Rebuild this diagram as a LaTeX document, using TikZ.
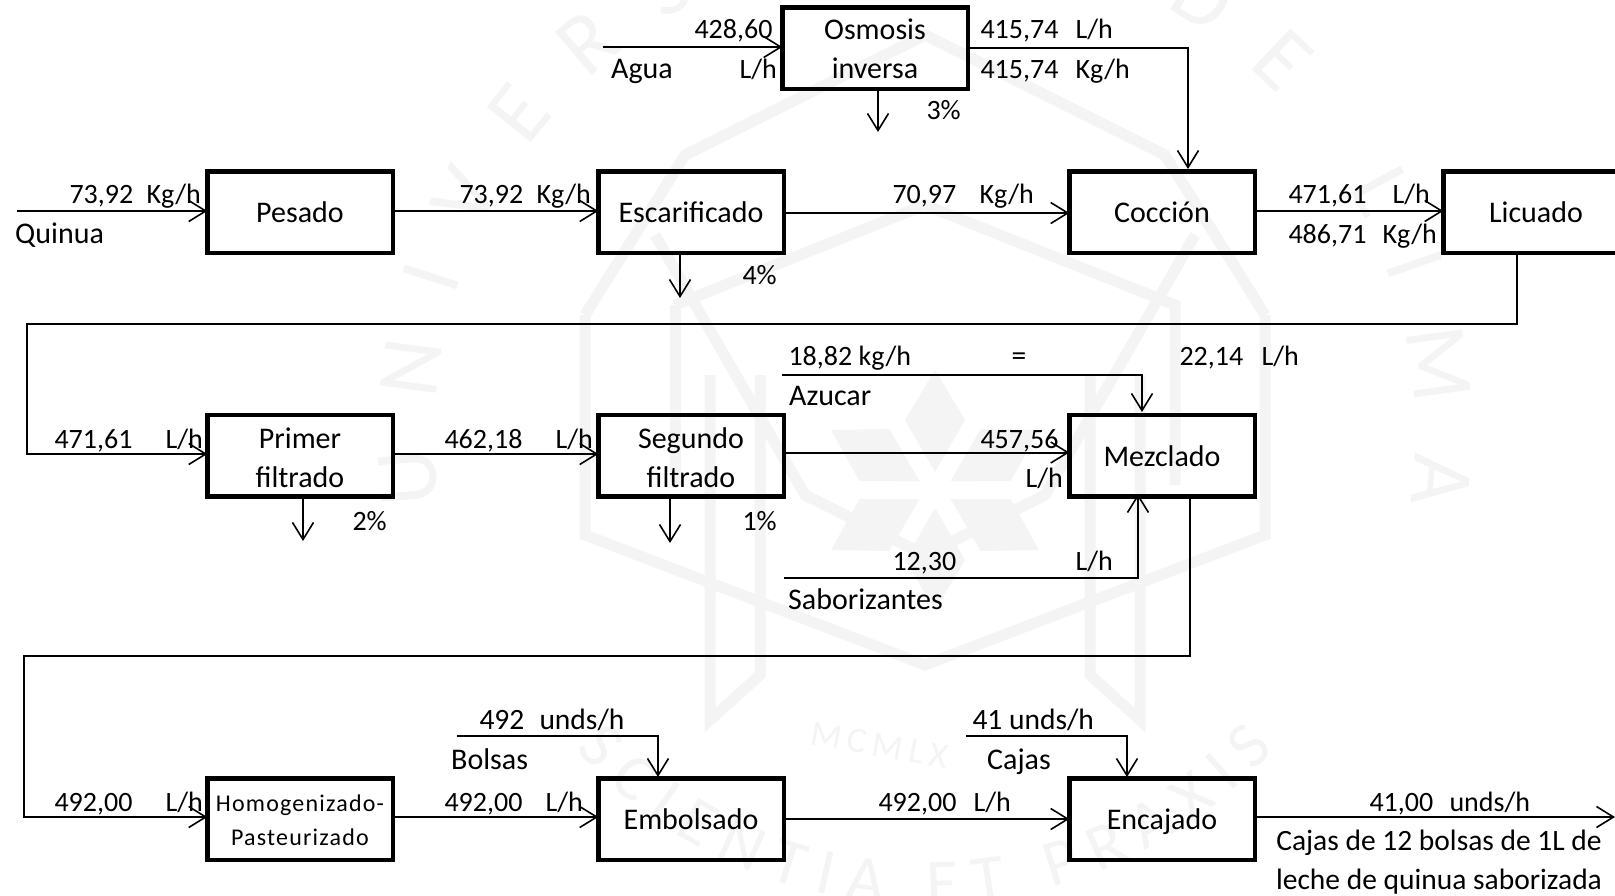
\documentclass[tikz,border=0pt]{standalone}
\usepackage{fontspec}
\setmainfont{Carlito}
\usetikzlibrary{arrows.meta,decorations.text,calc}
\definecolor{wm}{HTML}{F4F4F4}
\tikzset{
  box/.style={draw=black,line width=4.5pt,minimum width=185.5pt,minimum height=81.5pt,inner sep=0pt,outer sep=0pt,align=center,
    font=\fontsize{30}{39}\selectfont,text height=21pt,text depth=0pt},
  lab/.style={inner sep=0pt,anchor=base west,xshift=-0.7pt,font=\fontsize{28}{39}\selectfont},
  word/.style={inner sep=0pt,anchor=base west,font=\fontsize{30}{39}\selectfont},
  clab/.style={inner sep=0pt,anchor=base,font=\fontsize{29.5}{39}\selectfont},
  flow/.style={line width=2pt,line join=miter},
  arr/.style={flow,-{Straight Barb[length=17pt,width=21pt,line width=1.6pt]}},
  seal/.style={draw=wm,line width=11pt,fill=none}
}
\newcommand{\gapto}[2]{\makebox[#1pt][l]{#2}}
\begin{document}
\begin{tikzpicture}[x=1pt,y=-1pt]
\useasboundingbox (0,0) rectangle (1615,895);
\fill[white] (0,0) rectangle (1615,895);
% watermark seal
\begin{scope}[shift={(925,435)},x=1pt,y=1pt]
  \path[decorate,decoration={text along path,text align=fit to path,
    text={|\fontsize{88}{88}\selectfont\color{wm}|UNIVERSIDAD DE LIMA}}]
    (188:490) arc[start angle=188,end angle=-8,radius=490];
  \path[decorate,decoration={text along path,text align=fit to path,
    text={|\fontsize{66}{66}\selectfont\color{wm}|SCIENTIA ET PRAXIS}}]
    (222:470) arc[start angle=222,end angle=318,radius=470];
  \draw[seal] (-340,120) -- (-340,-100) -- (0,-230) -- (340,-100) -- (340,120);
  \draw[seal] (-340,120) -- (-240,280) -- (0,400) -- (240,280) -- (340,120);
  \draw[seal] (-270,200) -- (-120,-60) -- (0,-120) -- (120,-60) -- (270,200);
  \draw[seal] (-250,130) -- (0,230) -- (250,130) -- (250,-50);
  \draw[seal] (-250,130) -- (-250,-50);
  \foreach \s in {-1,1}{
    \draw[seal,xscale=\s] (165,60) -- (165,-240) -- (215,-285) -- (215,60);
  }
  \foreach \a in {0,60,...,300}{\fill[wm,rotate around={\a:(10,-55)}] (10,-37) -- (40,15) -- (10,65) -- (-20,15) -- cycle;}
\end{scope}
\node[inner sep=0pt,text=wm,font=\fontsize{36}{36}\selectfont,rotate=-10] (wmyear) at (880,745) {M\,C\,M\,L\,X};

% boxes
\node[box,text height=60pt] (osm) at (875,48) {Osmosis\\inversa};
\node[box] (pes) at (300,212) {Pesado};
\node[box] (esc) at (691,212) {Escarificado};
\node[box] (coc) at (1162,212) {Cocción};
\node[box] (lic) at (1536,212) {Licuado};
\node[box,text height=63pt] (pri) at (300,455.5) {Primer\\filtrado};
\node[box,text height=63pt] (seg) at (691,455.5) {Segundo\\filtrado};
\node[box] (mez) at (1162,455.5) {Mezclado};
\node[box,text height=52pt,font=\fontsize{24}{34}\selectfont\addfontfeature{LetterSpace=5}] (hom) at (300,819) {Homogenizado-\\Pasteurizado};
\node[box] (emb) at (691,819) {Embolsado};
\node[box] (enc) at (1162,819) {Encajado};

% free ends
\coordinate (aguaS) at (603,47);
\coordinate (quiS) at (17,211);
\coordinate (osmD) at (878,132);
\coordinate (escD) at (680,298);
\coordinate (priD) at (303,541);
\coordinate (segD) at (670,543);
\coordinate (azuS) at (782,375);
\coordinate (saboS) at (784,578);
\coordinate (bolS) at (457,736);
\coordinate (cajS) at (966,736);
\coordinate (finE) at (1615,817);
\coordinate (licA) at (1517,324);
\coordinate (licB) at (27,324);
\coordinate (licC) at (27,454);
\coordinate (mezA) at (1190,656);
\coordinate (mezB) at (24,656);
\coordinate (mezC) at (24,817);
\coordinate (cocI) at (1188,169);
\coordinate (mezI) at (1142,412);
\coordinate (mezJ) at (1138,494);
\coordinate (embI) at (658,777);
\coordinate (encI) at (1127,777);

% connectors
\draw[arr] (aguaS) -- (aguaS -| osm.west);
\draw[arr] (osm.east) -| (cocI);
\draw[arr] (osmD |- osm.south) -- (osmD);
\draw[arr] (quiS) -- (quiS -| pes.west);
\draw[arr] (quiS -| pes.east) -- (quiS -| esc.west);
\draw[arr] ([yshift=-1pt]esc.east) -- ([yshift=-1pt]coc.west);
\draw[arr] (quiS -| coc.east) -- (quiS -| lic.west);
\draw[arr] (escD |- esc.south) -- (escD);
\draw[arr] (licA |- lic.south) -- (licA) -- (licB) -- (licC) -- (licC -| pri.west);
\draw[arr] (licC -| pri.east) -- (licC -| seg.west);
\draw[arr] ([yshift=3pt]seg.east) -- ([yshift=3pt]mez.west);
\draw[arr] (priD |- pri.south) -- (priD);
\draw[arr] (segD |- seg.south) -- (segD);
\draw[arr] (azuS) -| (mezI);
\draw[arr] (saboS) -| (mezJ);
\draw[arr] (mezA |- mez.south) -- (mezA) -- (mezB) -- (mezC) -- (mezC -| hom.west);
\draw[arr] (mezC -| hom.east) -- (mezC -| emb.west);
\draw[arr] (emb.east) -- (enc.west);
\draw[arr] (mezC -| enc.east) -- (finE);
\draw[arr] (bolS) -| (embI);
\draw[arr] (cajS) -| (encI);

% labels
\node[lab] (t01) at (695,38) {428,60};
\node[lab] (t02) at (740,78) {L/h};
\node[word] (t03) at (611,78) {Agua};
\node[lab] (t04) at (981,38) {\gapto{95}{415,74}L/h};
\node[lab] (t05) at (981,78) {\gapto{95}{415,74}Kg/h};
\node[lab] (t06) at (927,119) {3\%};
\node[lab] (t07) at (70,203) {\gapto{77}{73,92}Kg/h};
\node[word] (t08) at (15,243) {Quinua};
\node[lab] (t09) at (460,203) {\gapto{77}{73,92}Kg/h};
\node[lab] (t10) at (893,203) {\gapto{87}{70,97}Kg/h};
\node[lab] (t11) at (1289,203) {\gapto{104}{471,61}L/h};
\node[lab] (t12) at (1289,243) {\gapto{94}{486,71}Kg/h};
\node[lab] (t13) at (743,284) {4\%};
\node[lab] (t14) at (789,365) {18,82 kg/h};
\node[clab] (t15) at (1019,365) {=};
\node[lab] (t16) at (1180,365) {\gapto{82}{22,14}L/h};
\node[word] (t17) at (789,405) {Azucar};
\node[lab] (t18) at (55,448) {\gapto{111}{471,61}L/h};
\node[lab] (t19) at (445,448) {\gapto{111}{462,18}L/h};
\node[lab] (t20) at (981,448) {457,56};
\node[lab] (t21) at (1026,487) {L/h};
\node[lab] (t22) at (353,530) {2\%};
\node[lab] (t23) at (743,530) {1\%};
\node[lab] (t24) at (893,570) {\gapto{183}{12,30}L/h};
\node[word] (t25) at (788,609) {Saborizantes};
\node[lab,font=\fontsize{29.5}{39}\selectfont] (t26) at (480,729) {\gapto{60}{492}unds/h};
\node[lab,font=\fontsize{29.5}{39}\selectfont] (t27) at (973,729) {41 unds/h};
\node[word] (t28) at (451,769) {Bolsas};
\node[word] (t29) at (987,769) {Cajas};
\node[lab] (t30) at (55,811) {\gapto{111}{492,00}L/h};
\node[lab] (t31) at (445,811) {\gapto{101}{492,00}L/h};
\node[lab] (t32) at (879,811) {\gapto{95}{492,00}L/h};
\node[lab] (t33) at (1370,811) {\gapto{80}{41,00}unds/h};
\node[clab] (t34) at (1439,850) {Cajas de 12 bolsas de 1L de};
\node[clab] (t35) at (1439,889) {leche de quinua saborizada};
\end{tikzpicture}
\end{document}
